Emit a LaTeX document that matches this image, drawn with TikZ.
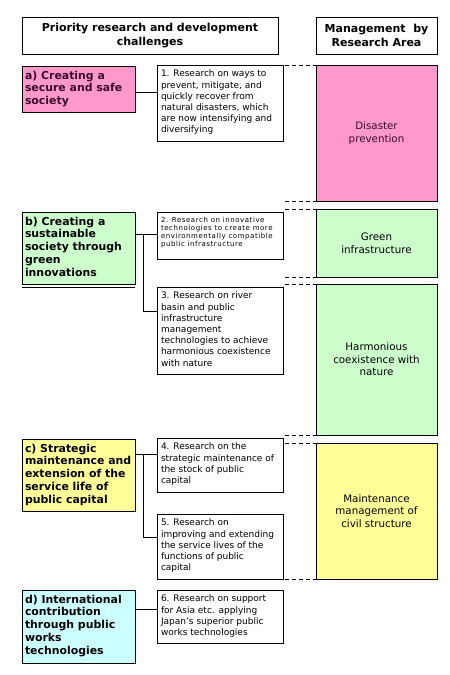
\documentclass[tikz,border=0pt]{standalone}
\usepackage{fontspec}
\setmainfont{DejaVu Sans}
\newfontfamily\tightfont{DejaVu Sans}[LetterSpace=8]
\usetikzlibrary{positioning}
\definecolor{rose}{HTML}{FF99CC}
\definecolor{mint}{HTML}{CCFFCC}
\definecolor{butter}{HTML}{FFFF99}
\definecolor{ice}{HTML}{CCFFFF}
\definecolor{plum}{HTML}{3A0A28}
\newcommand{\cellbody}[3]{\parbox[c][#2][t]{#1}{\raggedright #3}}
\tikzset{
  frame/.style={draw=black,line width=0.8pt,outer sep=0pt},
  header/.style={frame,fill=white,align=center,inner sep=0pt,anchor=north west,
    font=\fontsize{11}{14}\selectfont\bfseries},
  goal/.style={frame,anchor=north west,inner xsep=3pt,inner ysep=5pt,
    font=\fontsize{10.9}{12.7}\selectfont\bfseries},
  topic/.style={frame,fill=white,anchor=north west,inner xsep=4pt,inner ysep=5pt,
    font=\fontsize{9}{11.2}\selectfont},
  area/.style={frame,anchor=north west,align=center,inner sep=0pt,minimum width=121pt,
    font=\fontsize{10.3}{12.5}\selectfont},
  link/.style={draw=black,line width=0.8pt},
  guide/.style={draw=black,line width=0.8pt,dash pattern=on 4pt off 3pt}
}

\begin{document}
\begin{tikzpicture}[x=1pt,y=-1pt]
  \useasboundingbox (0,0) rectangle (450,675);
  % headings
  \node[header,minimum width=256pt,minimum height=37pt] (hl) at (22,17) {Priority research and development\\challenges};
  \node[header,minimum width=121pt,minimum height=37pt] (hr) at (316,17) {Management~ by\\Research Area};
  % challenges
  \node[goal,fill=rose,text=plum] (a) at (22,66) {\cellbody{107pt}{36pt}{a) Creating a\\secure and safe\\society}};
  \node[goal,fill=mint] (b) at (22,212) {\cellbody{107pt}{62pt}{b) Creating a\\sustainable\\society through\\green\\innovations}};
  \node[goal,fill=butter] (c) at (22,439) {\cellbody{107pt}{62pt}{c) Strategic\\maintenance and\\extension of the\\service life of\\public capital}};
  \node[goal,fill=ice] (d) at (22,590) {\cellbody{107pt}{63pt}{d) International\\contribution\\through public\\works\\technologies}};
  \draw[link] ([yshift=-3pt]b.south west) -- ([yshift=-3pt]b.south east);
  % research topics
  \node[topic] (one) at (157,65) {\cellbody{118pt}{66pt}{1. Research on ways to\\prevent, mitigate, and\\quickly recover from\\natural disasters, which\\are now intensifying and\\diversifying}};
  \node[topic,font=\fontsize{7}{7.9}\selectfont\tightfont] (two) at (157,212) {\cellbody{118pt}{37pt}{2. Research on innovative\\technologies to create more\\environmentally compatible\\public infrastructure}};
  \node[topic] (three) at (157,287) {\cellbody{118pt}{77pt}{3. Research on river\\basin and public\\infrastructure\\management\\technologies to achieve\\harmonious coexistence\\with nature}};
  \node[topic] (four) at (157,438) {\cellbody{118pt}{44pt}{4. Research on the\\strategic maintenance of\\the stock of public\\capital}};
  \node[topic] (five) at (157,514) {\cellbody{118pt}{55pt}{5. Research on\\improving and extending\\the service lives of the\\functions of public\\capital}};
  \node[topic] (six) at (157,590) {\cellbody{118pt}{43pt}{6. Research on support\\for Asia etc. applying\\Japan’s superior public\\works technologies}};
  % research areas
  \node[area,fill=rose,text=plum,minimum height=136pt] (dis) at (316,65) {Disaster\\prevention};
  \node[area,fill=mint,minimum height=68pt] (grn) at (316,209) {Green\\infrastructure};
  \node[area,fill=mint,minimum height=151pt] (har) at (316,284) {Harmonious\\coexistence with\\nature};
  \node[area,fill=butter,minimum height=136pt] (mnt) at (316,443) {Maintenance\\management of\\civil structure};
  % connectors
  \coordinate (ja) at (146,92);
  \coordinate (jb) at (143,234);
  \coordinate (kb) at (143,311);
  \coordinate (jc) at (143,454);
  \coordinate (kc) at (143,537);
  \coordinate (jd) at (146,609);
  \draw[link] (ja -| a.east) -- (ja -| one.west);
  \draw[link] (jb -| b.east) -- (jb -| two.west);
  \draw[link] (jb) |- (kb -| three.west);
  \draw[link] (jc -| c.east) -- (jc -| four.west);
  \draw[link] (jc) |- (kc -| five.west);
  \draw[link] (jd -| d.east) -- (jd -| six.west);
  \foreach \n in {dis,grn,har,mnt}{
    \draw[guide] ([xshift=-31pt]\n.north west) -- (\n.north west);
    \draw[guide] ([xshift=-31pt]\n.south west) -- (\n.south west);
  }
\end{tikzpicture}
\end{document}
